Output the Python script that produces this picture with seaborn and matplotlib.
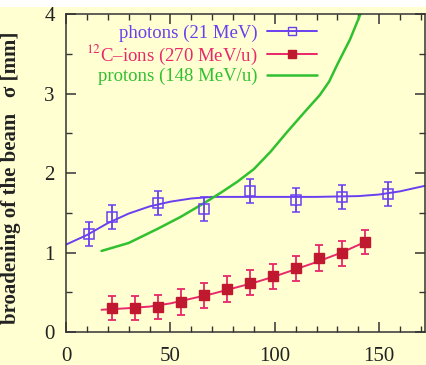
import numpy as np
import pandas as pd
import matplotlib
matplotlib.use("Agg")
import matplotlib.pyplot as plt
from matplotlib.lines import Line2D
import seaborn as sns

# Data
ph_x = [11, 22, 44, 66, 88, 110, 132, 154]
ph_y = [1.23, 1.45, 1.62, 1.55, 1.77, 1.66, 1.70, 1.74]
ph_err = [0.15, 0.15, 0.15, 0.15, 0.15, 0.15, 0.15, 0.15]
ph_fit_x = [0, 10, 20, 30, 40, 50, 60, 70, 80, 100, 120, 140, 150, 160, 172]
ph_fit_y = [1.10, 1.22, 1.37, 1.49, 1.58, 1.64, 1.68, 1.70, 1.70, 1.70, 1.70, 1.71, 1.73, 1.77, 1.84]

c_x = [22, 33, 44, 55, 66, 77, 88, 99, 110, 121, 132, 143]
c_y = [0.30, 0.30, 0.31, 0.38, 0.46, 0.54, 0.62, 0.70, 0.80, 0.93, 0.99, 1.13]
c_err = [0.15, 0.15, 0.15, 0.16, 0.16, 0.16, 0.16, 0.16, 0.16, 0.16, 0.16, 0.15]
c_fit_x = [17, 30, 40, 50, 60, 70, 80, 90, 100, 110, 120, 132, 143]
c_fit_y = [0.28, 0.30, 0.32, 0.36, 0.42, 0.48, 0.55, 0.62, 0.70, 0.79, 0.88, 1.00, 1.13]

p_x = [17, 30, 44, 55, 66, 74, 82, 90, 98, 106, 114, 121.5, 126, 130, 136, 141, 145]
p_y = [1.02, 1.12, 1.30, 1.45, 1.62, 1.75, 1.89, 2.05, 2.27, 2.52, 2.76, 2.98, 3.15, 3.37, 3.68, 4.00, 4.30]

labels = ["photons (21 MeV)", r"$^{12}$C–ions (270 MeV/u)", "protons (148 MeV/u)"]
xticks = [0, 50, 100, 150]
yticks = [0, 1, 2, 3, 4]

blue = "#6a3ff0"
red = "#e8286a"
dred = "#c0182e"
green = "#30c030"
bg = "#ffffd2"

sns.set_theme(style="ticks")
plt.rcParams["font.family"] = ["Liberation Serif", "DejaVu Serif"]
plt.rcParams["mathtext.fontset"] = "stix"

fig = plt.figure(figsize=(4.26, 3.65), dpi=100, facecolor=bg)
fig.patches.append(plt.Rectangle((0, 0.982), 1, 0.02, transform=fig.transFigure,
                                 facecolor="white", edgecolor="none", zorder=-1))
ax = fig.add_axes([0.155, 0.0904, 0.843, 0.871])
ax.set_facecolor(bg)

ph_fit = pd.DataFrame({"x": ph_fit_x, "y": ph_fit_y})
c_fit = pd.DataFrame({"x": c_fit_x, "y": c_fit_y})
pr = pd.DataFrame({"x": p_x, "y": p_y})

sns.lineplot(data=ph_fit, x="x", y="y", ax=ax, color=blue, lw=1.4, sort=True)
sns.lineplot(data=c_fit, x="x", y="y", ax=ax, color=red, lw=1.4, sort=True)
sns.lineplot(data=pr, x="x", y="y", ax=ax, color=green, lw=1.8, sort=True)

ax.errorbar(ph_x, ph_y, yerr=ph_err, fmt="s", ms=7, mfc="none", mec=blue, mew=1.1,
            ecolor=blue, elinewidth=1.3, capsize=3, capthick=1.3)
ax.errorbar(c_x, c_y, yerr=c_err, fmt="s", ms=7, mfc=dred, mec=dred,
            ecolor=red, elinewidth=1.3, capsize=3, capthick=1.3)

ax.set_xlim(0, 172)
ax.set_ylim(0, 4)
ax.set_xticks(xticks)
ax.set_yticks(yticks)
ax.set_xticks(np.arange(0, 172, 10), minor=True)
ax.set_yticks(np.arange(0, 4.01, 0.5), minor=True)
ax.tick_params(which="both", direction="in", top=True, right=True, colors="#333333",
               labelcolor="#222222", labelsize=15)
ax.tick_params(which="major", length=7, width=1.1)
ax.tick_params(which="minor", length=4, width=1.0)
ax.tick_params(axis="x", which="major", pad=11)
ax.tick_params(axis="y", which="major", pad=8)
for s in ax.spines.values():
    s.set_color("#333333")
    s.set_linewidth(1.1)
ax.set_xlabel("")
ax.set_ylabel("broadening of the beam   σ [mm]", fontsize=15, fontweight="bold",
              color="#222222")
ax.yaxis.set_label_coords(-0.125, 0.484)

handles = [
    Line2D([], [], color=blue, lw=1.4, marker="s", ms=6, mfc="none", mec=blue),
    Line2D([], [], color=red, lw=1.4, marker="s", ms=6, mfc=dred, mec=dred),
    Line2D([], [], color=green, lw=1.8),
]
leg = ax.legend(handles, labels, loc="upper left", bbox_to_anchor=(0.008, 1.02),
                frameon=False, markerfirst=False, fontsize=13.5, handlelength=2.7,
                labelspacing=0.05, handletextpad=0.5, alignment="right")
for t, c in zip(leg.get_texts(), [blue, red, green]):
    t.set_color(c)
    t.set_ha("right")

fig.savefig("out.png", dpi=100, facecolor=bg)
